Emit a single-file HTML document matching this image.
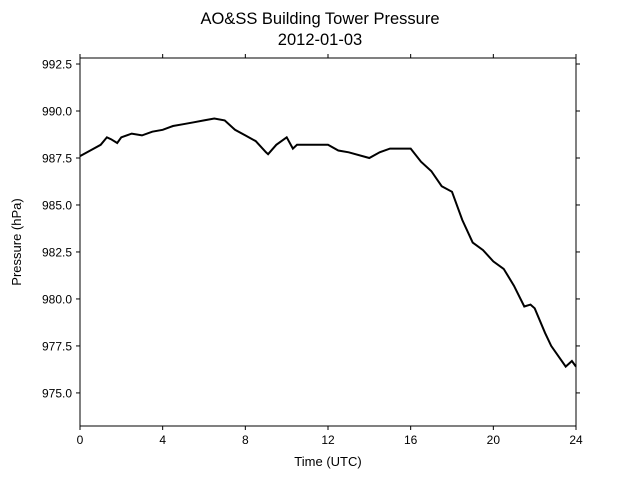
<!DOCTYPE html>
<html><head><meta charset="utf-8"><style>
body{margin:0;background:#fff}
svg text{font-family:"Liberation Sans","DejaVu Sans",sans-serif;fill:#000}
</style></head><body>
<svg id="chart" width="640" height="480" xmlns="http://www.w3.org/2000/svg">
<text x="320" y="24" font-size="16.5" text-anchor="middle">AO&amp;SS Building Tower Pressure</text>
<text x="320" y="45" font-size="16.5" text-anchor="middle">2012-01-03</text>
<text x="328" y="466" font-size="13" text-anchor="middle">Time (UTC)</text>
<text transform="translate(21,242) rotate(-90)" font-size="13" text-anchor="middle">Pressure (hPa)</text>
<g id="ticks"></g>
<path id="line" fill="none" stroke="#000" stroke-width="2"/>
<rect x="80" y="58" width="496" height="368" fill="none" stroke="#000" stroke-width="1"/>
</svg>
<script>
const hours=[0,0.5,1,1.3,1.5,1.8,2,2.5,3,3.5,4,4.5,5,5.5,6,6.5,7,7.5,8,8.5,9,9.1,9.5,10,10.3,10.5,11,12,12.5,13,14,14.5,15,16,16.5,17,17.5,18,18.5,19,19.5,20,20.5,21,21.5,21.8,22,22.5,22.8,23.5,23.8,24];
const pressure=[987.6,987.9,988.2,988.6,988.5,988.3,988.6,988.8,988.7,988.9,989.0,989.2,989.3,989.4,989.5,989.6,989.5,989.0,988.7,988.4,987.8,987.7,988.2,988.6,988.0,988.2,988.2,988.2,987.9,987.8,987.5,987.8,988.0,988.0,987.3,986.8,986.0,985.7,984.2,983.0,982.6,982.0,981.6,980.7,979.6,979.7,979.5,978.2,977.5,976.4,976.7,976.4];
const xTicks=[0,4,8,12,16,20,24];
const yTicks=[975.0,977.5,980.0,982.5,985.0,987.5,990.0,992.5];
const X0=80,X1=576,Y0=426,Y1=58,XMIN=0,XMAX=24,YMIN=973.24,YMAX=992.82;
const sx=v=>X0+(v-XMIN)/(XMAX-XMIN)*(X1-X0);
const sy=v=>Y0-(v-YMIN)/(YMAX-YMIN)*(Y0-Y1);
const NS="http://www.w3.org/2000/svg";
const g=document.getElementById('ticks');
function mk(t,a){const e=document.createElementNS(NS,t);for(const k in a)e.setAttribute(k,a[k]);g.appendChild(e);return e;}
xTicks.forEach(v=>{
 const x=sx(v);
 const t=mk('line',{x1:x,x2:x,y1:Y0,y2:Y0+4,stroke:'#000'});
 
 
 const t2=mk('line',{x1:x,x2:x,y1:Y1,y2:Y1-4,stroke:'#000'});
 
 
 const l=mk('text',{x:x,y:Y0+18,'font-size':'12','text-anchor':'middle'});
 l.textContent=v;
 
 
});
yTicks.forEach(v=>{
 const y=sy(v);
 const t=mk('line',{x1:X0-4,x2:X0,y1:y,y2:y,stroke:'#000'});
 
 
 const t2=mk('line',{x1:X1,x2:X1+4,y1:y,y2:y,stroke:'#000'});
 
 
 const l=mk('text',{x:X0-8,y:y+4.5,'font-size':'12','text-anchor':'end'});
 l.textContent=v.toFixed(1);
 
 
});
document.getElementById('line').setAttribute('d',hours.map((h,i)=>(i?'L':'M')+sx(h).toFixed(1)+','+sy(pressure[i]).toFixed(1)).join(''));
</script>
</body></html>
